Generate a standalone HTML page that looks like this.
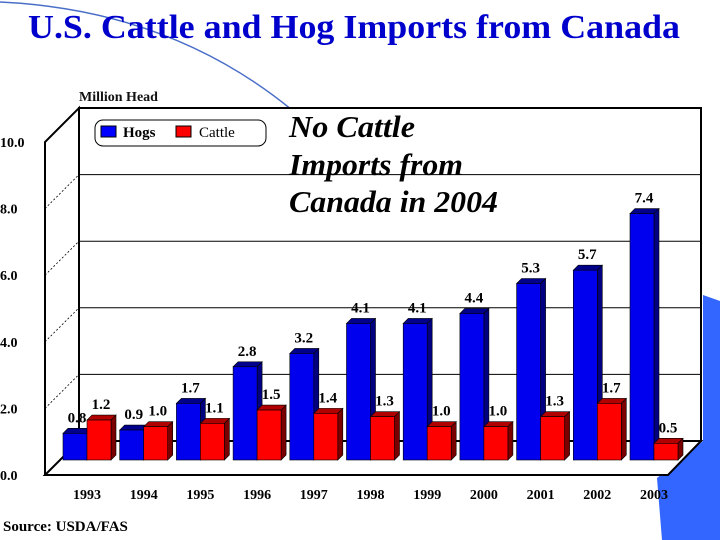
<!DOCTYPE html>
<html><head><meta charset="utf-8"><style>
html,body{margin:0;padding:0;background:#fff;}
svg{display:block;font-family:"Liberation Serif",serif;}
</style></head><body>
<svg id="chart" width="720" height="540" viewBox="0 0 720 540" xmlns="http://www.w3.org/2000/svg">
<path d="M703,295 L720,301 L720,540 L662,540 L657,478 L703,441 Z" fill="#3366ff"/>
<path d="M0,2 Q170,10 292,110" fill="none" stroke="#4a6ec8" stroke-width="1.5"/>
<text x="28" y="38" font-size="34" font-weight="bold" fill="#0000cc" textLength="652" lengthAdjust="spacingAndGlyphs">U.S. Cattle and Hog Imports from Canada</text>
<text x="79" y="101" font-size="14" font-weight="bold" fill="#111">Million Head</text>
<g id="frame"></g>
<g id="bars"></g>
<g id="labels"></g>
<g>
<rect x="95" y="120" width="171" height="26" rx="8" fill="#fff" stroke="#000" stroke-width="1"/>
<rect x="101" y="126" width="15" height="11" fill="#0000ff" stroke="#000" stroke-width="1"/>
<text x="123" y="137" font-size="15" font-weight="bold">Hogs</text>
<rect x="176" y="126" width="15" height="11" fill="#ff0000" stroke="#000" stroke-width="1"/>
<text x="199" y="137" font-size="15">Cattle</text>
</g>
<g font-size="31" font-style="italic" font-weight="bold">
<text x="289" y="137" textLength="126" lengthAdjust="spacingAndGlyphs">No Cattle</text>
<text x="289" y="175" textLength="174" lengthAdjust="spacingAndGlyphs">Imports from</text>
<text x="289" y="212" textLength="209" lengthAdjust="spacingAndGlyphs">Canada in 2004</text>
</g>
<text x="3" y="531" font-size="15" font-weight="bold">Source:  USDA/FAS</text>
</svg>
<script>
const years = ["1993","1994","1995","1996","1997","1998","1999","2000","2001","2002","2003"];
const hogs = [0.8,0.9,1.7,2.8,3.2,4.1,4.1,4.4,5.3,5.7,7.4];
const cattle = [1.2,1.0,1.1,1.5,1.4,1.3,1.0,1.0,1.3,1.7,0.5];
const hogLabels = ["0.8","0.9","1.7","2.8","3.2","4.1","4.1","4.4","5.3","5.7","7.4"];
const cattleLabels = ["1.2","1.0","1.1","1.5","1.4","1.3","1.0","1.0","1.3","1.7","0.5"];
const yTicks = [0,2,4,6,8,10];
const yTickLabels = ["0.0","2.0","4.0","6.0","8.0","10.0"];

const NS = "http://www.w3.org/2000/svg";
function mk(tag, attrs, parent){const e=document.createElementNS(NS,tag);for(const k in attrs)e.setAttribute(k,attrs[k]);parent.appendChild(e);return e;}
const unit = 33.3;
const yBack = v => 441 - v*unit;
const yFront = v => 475 - v*unit;
const yBar = v => 460 - v*unit;
const xGroup = i => 63 + i*56.7;

const frame = document.getElementById('frame');
let wall = mk('rect',{x:79,y:yBack(10),width:622,height:yBack(0)-yBack(10),fill:'#fff',stroke:'#000','stroke-width':2},frame);


let floor = mk('path',{d:`M45,475 L79,441 L701,441 L668,475 Z`,fill:'#fff',stroke:'#000','stroke-width':2},frame);


let lw = mk('path',{d:`M45,475 L45,${yFront(10)} L79,${yBack(10)} L79,441`,fill:'none',stroke:'#000','stroke-width':2},frame);


yTicks.forEach((v,i)=>{
  if(v>0 && v<10){
    const g = mk('line',{x1:79,x2:701,y1:yBack(v),y2:yBack(v),stroke:'#000','stroke-width':1},frame);
    
    
    const d = mk('line',{x1:45,x2:79,y1:yFront(v),y2:yBack(v),stroke:'#000','stroke-width':0.8,'stroke-dasharray':'2,2'},frame);
    
    
  }
  const t = mk('text',{x:0,y:yFront(v)+5,'font-size':14,'font-weight':'bold'},frame);
  t.textContent = yTickLabels[i];
  
  
});
years.forEach((y,i)=>{
  const t = mk('text',{x:xGroup(i)+24,y:499,'font-size':14,'font-weight':'bold','text-anchor':'middle'},frame);
  t.textContent = y;
  
  
});
const bars = document.getElementById('bars');
const labels = document.getElementById('labels');
function bar(x,v,front,top,side,name,lab){
  const yt = yBar(v), w=24, d=5;
  const g = mk('g',{},bars);
  
  
  mk('path',{d:`M${x},${yt} L${x+d},${yt-d} L${x+w+d},${yt-d} L${x+w},${yt} Z`,fill:top,stroke:'#000','stroke-width':0.6},g);
  mk('path',{d:`M${x+w},${yt} L${x+w+d},${yt-d} L${x+w+d},${460-d} L${x+w},460 Z`,fill:side,stroke:'#000','stroke-width':0.6},g);
  mk('rect',{x:x,y:yt,width:w,height:460-yt,fill:front,stroke:'#000','stroke-width':0.6},g);
  const t = mk('text',{x:x+14,y:yt-11,'font-size':15,'font-weight':'bold','text-anchor':'middle'},labels);
  t.textContent = lab;
  
  
}
years.forEach((y,i)=>{
  bar(xGroup(i),hogs[i],'#0000ee','#00008a','#000080','bar-hogs-'+y,hogLabels[i]);
  bar(xGroup(i)+24,cattle[i],'#ff0000','#b00000','#7a0000','bar-cattle-'+y,cattleLabels[i]);
});
</script>
</body></html>
